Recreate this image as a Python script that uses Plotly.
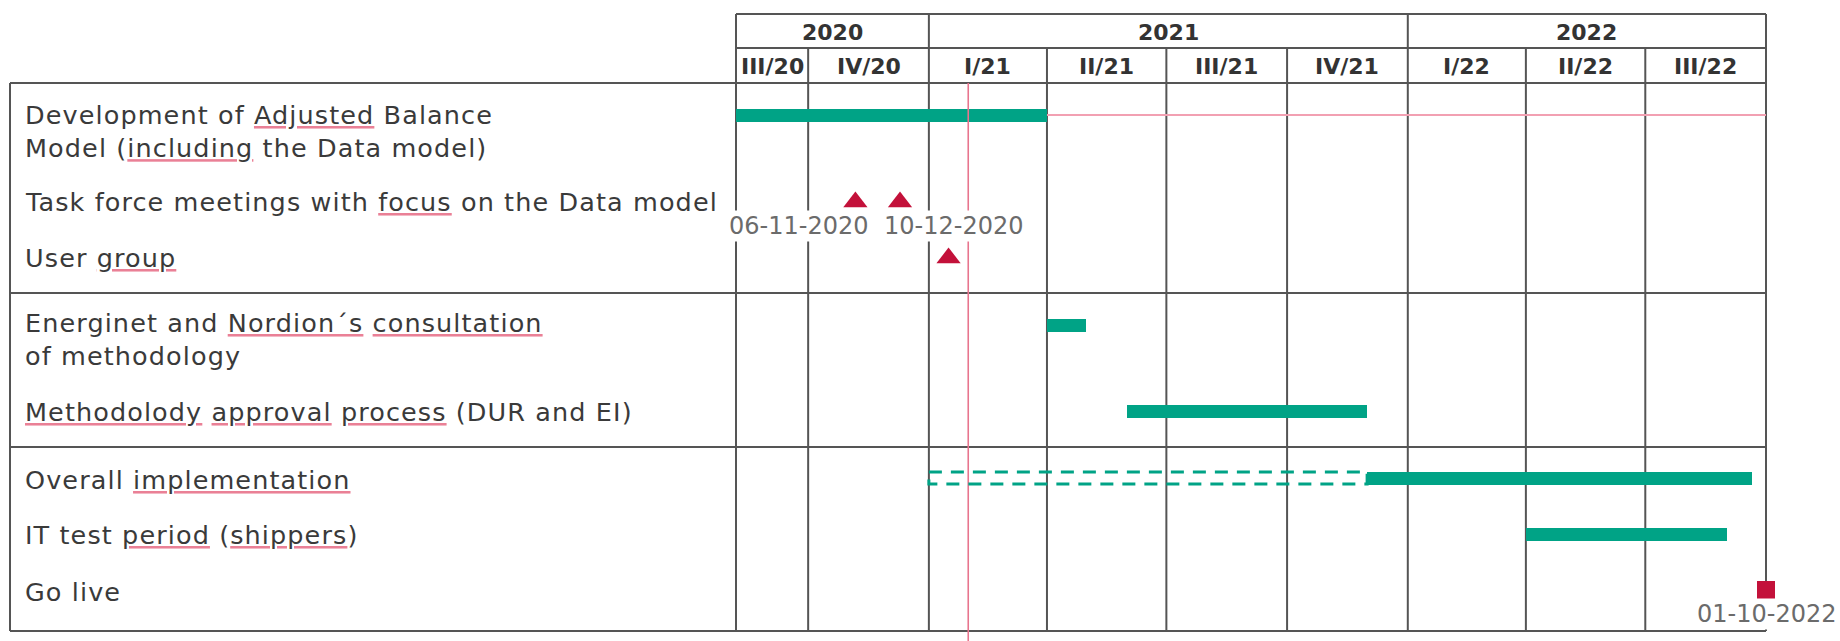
import re
import pandas as pd
import plotly.graph_objects as go

# ---------------- data ----------------
TIMELINE_START = "2020-08-07"
TIMELINE_END = "2022-10-01"

YEARS = ["2020", "2021", "2022"]
QUARTER_LABELS = ["III/20", "IV/20", "I/21", "II/21", "III/21", "IV/21", "I/22", "II/22", "III/22"]
QUARTER_STARTS = ["2020-07-01", "2020-10-01", "2021-01-01", "2021-04-01", "2021-07-01",
                  "2021-10-01", "2022-01-01", "2022-04-01", "2022-07-01"]

ROWS = [
    "Development of Adjusted Balance\nModel (including the Data model)",
    "Task force meetings with focus on the Data model",
    "User group",
    "Energinet and Nordion´s consultation\nof methodology",
    "Methodolody approval process (DUR and EI)",
    "Overall implementation",
    "IT test period (shippers)",
    "Go live",
]

TASKS = [
    "Development of Adjusted Balance\nModel (including the Data model)",
    "Energinet and Nordion´s consultation\nof methodology",
    "Methodolody approval process (DUR and EI)",
    "Overall implementation",
    "IT test period (shippers)",
]
TASK_START = ["2020-08-07", "2021-04-01", "2021-06-01", "2021-12-01", "2022-04-01"]
TASK_END = ["2021-04-01", "2021-05-01", "2021-12-01", "2022-09-20", "2022-09-01"]

PLANNED_TASK = "Overall implementation"
PLANNED_START = "2021-01-01"
PLANNED_END = "2021-12-01"

MILESTONES = [
    "Task force meetings with focus on the Data model",
    "Task force meetings with focus on the Data model",
    "User group",
    "Go live",
]
MILESTONE_DATES = ["2020-11-06", "2020-12-10", "2021-01-16", "2022-10-01"]
MILESTONE_SHOW_DATE = [True, True, False, True]

STATUS_DATE = "2021-01-31"

SPELL_FLAGGED = ["Adjusted", "including", "focus", "group", "Nordion´s", "consultation",
                 "Methodolody", "approval", "process", "implementation", "period", "shippers"]

# ---------------- layout (pixels) ----------------
FIG_W, FIG_H = 1840, 641
FRAME_LEFT = 10
CHART_LEFT, CHART_RIGHT = 736, 1766
HEADER_TOP, YEAR_ROW_BOTTOM, HEADER_BOTTOM = 14, 48, 83
SECTION_BREAKS = [293, 447]
TABLE_BOTTOM = 631
LABEL_X = 23

ROW_Y = dict(zip(ROWS, [115, 202, 258, 325, 411, 478, 534, 590]))
ROW_TEXT_Y = dict(zip(ROWS, [131, 202, 258, 339, 412, 480, 535, 592]))
DATE_LABEL_SHIFT = [(-57, 24), (53, 24), (0, 0), (0, 24)]

BAR_H = 13
TEAL = "#00a386"
CRIMSON = "#c3113a"
GRID = "#555555"
TEXT = "#3a3a3a"
SQUIGGLE = "#ea8096"
FONT = "DejaVu Sans"

# x axis spans the whole figure; timeline edges land on the chart frame
t0 = pd.Timestamp(TIMELINE_START)
t1 = pd.Timestamp(TIMELINE_END)
ms_per_px = (t1 - t0) / (CHART_RIGHT - CHART_LEFT)
x_range = [t0 - ms_per_px * CHART_LEFT, t1 + ms_per_px * (FIG_W - CHART_RIGHT)]

fig = go.Figure()

# ---------------- table frame and header ----------------
shapes = []


def hline(y, x0_px, x1_px):
    shapes.append(dict(type="line", xref="paper", yref="y", x0=x0_px / FIG_W, x1=x1_px / FIG_W,
                       y0=y, y1=y, line=dict(color=GRID, width=2), layer="below"))


def vline(x, y0, y1):
    shapes.append(dict(type="line", xref="x", yref="y", x0=x, x1=x, y0=y0, y1=y1,
                       line=dict(color=GRID, width=2), layer="below"))


hline(HEADER_TOP, CHART_LEFT, CHART_RIGHT)
hline(YEAR_ROW_BOTTOM, CHART_LEFT, CHART_RIGHT)
for y in [HEADER_BOTTOM] + SECTION_BREAKS + [TABLE_BOTTOM]:
    hline(y, FRAME_LEFT, CHART_RIGHT)
shapes.append(dict(type="line", xref="paper", yref="y", x0=FRAME_LEFT / FIG_W, x1=FRAME_LEFT / FIG_W,
                   y0=HEADER_BOTTOM, y1=TABLE_BOTTOM, line=dict(color=GRID, width=2), layer="below"))

q_starts = [pd.Timestamp(q) for q in QUARTER_STARTS]
q_ends = q_starts[1:] + [q_starts[-1] + pd.DateOffset(months=3)]
boundaries = [t0] + [q for q in q_starts if t0 < q < t1] + [t1]
for b in boundaries:
    top = HEADER_TOP if (b in (t0, t1) or (b.month == 1 and b.day == 1)) else YEAR_ROW_BOTTOM
    vline(b, top, TABLE_BOTTOM)

annotations = []
hdr_font = dict(family=FONT, size=22, color="#333333", weight="bold")
for yr in YEARS:
    a = max(t0, pd.Timestamp(f"{yr}-01-01"))
    b = min(t1, pd.Timestamp(f"{int(yr) + 1}-01-01"))
    annotations.append(dict(x=a + (b - a) / 2, y=(HEADER_TOP + YEAR_ROW_BOTTOM) / 2 + 1, xref="x", yref="y",
                            text=yr, showarrow=False, font=hdr_font, xanchor="center", yanchor="middle"))
for lab, qs, qe in zip(QUARTER_LABELS, q_starts, q_ends):
    a, b = max(t0, qs), min(t1, qe)
    annotations.append(dict(x=a + (b - a) / 2, y=(YEAR_ROW_BOTTOM + HEADER_BOTTOM) / 2 + 1, xref="x", yref="y",
                            text=lab, showarrow=False, font=hdr_font, xanchor="center", yanchor="middle"))

# ---------------- row labels ----------------
flag_re = re.compile(r"(?<!\w)(" + "|".join(re.escape(w) for w in SPELL_FLAGGED) + r")(?!\w)")
# the underline takes the fill of the span declaring it, the word keeps the text colour
flag_markup = (f'<span style="text-decoration:underline;fill:{SQUIGGLE}">'
               f'<span style="fill:{TEXT}">\\1</span></span>')


def row_html(label):
    lines = []
    for line in label.split("\n"):
        marked = flag_re.sub(flag_markup, line)
        lines.append(f'<span style="letter-spacing:1.1px">{marked}</span>')
    return "<br>".join(lines)


for row in ROWS:
    annotations.append(dict(x=LABEL_X / FIG_W, y=ROW_TEXT_Y[row], xref="paper", yref="y",
                            text=row_html(row), showarrow=False, align="left",
                            xanchor="left", yanchor="middle",
                            font=dict(family=FONT, size=25.5, color=TEXT)))

# ---------------- status line ----------------
fig.add_trace(go.Scatter(x=[STATUS_DATE, STATUS_DATE], y=[HEADER_BOTTOM, FIG_H], mode="lines",
                         line=dict(color="#e8758e", width=1.6), hoverinfo="skip"))

# remaining-duration line after the development task
fig.add_trace(go.Scatter(x=[TASK_END[0], TIMELINE_END], y=[ROW_Y[TASKS[0]]] * 2, mode="lines",
                         line=dict(color="#f2a0b2", width=2), hoverinfo="skip"))

# ---------------- task bars ----------------
starts = pd.to_datetime(TASK_START)
ends = pd.to_datetime(TASK_END)
durations = (ends - starts).total_seconds() * 1000
fig.add_trace(go.Bar(orientation="h", base=TASK_START, x=list(durations),
                     y=[ROW_Y[t] for t in TASKS], width=BAR_H,
                     marker=dict(color=TEAL, line=dict(width=0)), hoverinfo="skip"))

# planned (outlined) part of overall implementation
py = ROW_Y[PLANNED_TASK]
fig.add_trace(go.Scatter(x=[PLANNED_START, PLANNED_END, PLANNED_END, PLANNED_START, PLANNED_START],
                         y=[py - 6, py - 6, py + 6, py + 6, py - 6], mode="lines",
                         line=dict(color=TEAL, width=3, dash="13px,9px"), hoverinfo="skip"))

# ---------------- milestones ----------------
symbols = ["square" if m == "Go live" else "triangle-up" for m in MILESTONES]
sizes = [18 if s == "square" else 21 for s in symbols]
fig.add_trace(go.Scatter(x=MILESTONE_DATES, y=[ROW_Y[m] for m in MILESTONES], mode="markers",
                         marker=dict(symbol=symbols, size=sizes, color=CRIMSON, opacity=1,
                                     line=dict(width=0)),
                         cliponaxis=False, hoverinfo="skip"))

for m, d, show, (dx, dy) in zip(MILESTONES, MILESTONE_DATES, MILESTONE_SHOW_DATE, DATE_LABEL_SHIFT):
    if not show:
        continue
    annotations.append(dict(x=d, y=ROW_Y[m] + dy, xref="x", yref="y", xshift=dx,
                            text=pd.Timestamp(d).strftime("%d-%m-%Y"), showarrow=False,
                            xanchor="center", yanchor="middle", bgcolor="white", borderpad=1,
                            font=dict(family=FONT, size=24, color="#6b6b6b")))

fig.update_layout(
    width=FIG_W, height=FIG_H,
    margin=dict(l=0, r=0, t=0, b=0),
    paper_bgcolor="white", plot_bgcolor="white",
    showlegend=False, bargap=0,
    xaxis=dict(type="date", range=x_range, domain=[0, 1], visible=False, fixedrange=True),
    yaxis=dict(range=[FIG_H, 0], domain=[0, 1], visible=False, fixedrange=True),
    shapes=shapes, annotations=annotations,
)

fig.write_html("out.html")
